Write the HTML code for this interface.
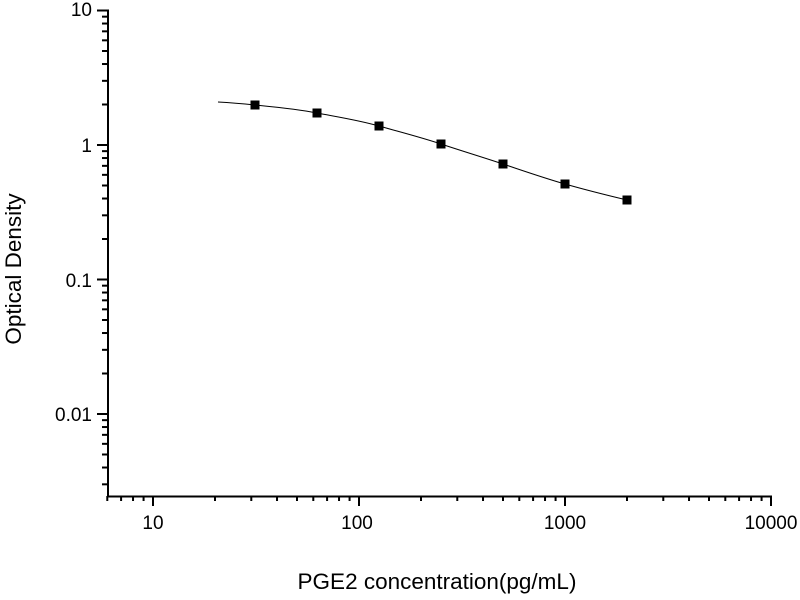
<!DOCTYPE html>
<html><head><meta charset="utf-8"><style>
html,body{margin:0;padding:0;background:#fff;}
svg{display:block;font-family:"Liberation Sans",Arial,sans-serif;}
</style></head><body>
<svg id="s" width="800" height="600" viewBox="0 0 800 600" xmlns="http://www.w3.org/2000/svg">
<line x1="108" y1="9.5" x2="108" y2="496.5" stroke="#000" stroke-width="2"/>
<line x1="107" y1="496.5" x2="772" y2="496.5" stroke="#000" stroke-width="2"/>
<g id="t" stroke="#000" stroke-width="2"></g>
<g font-size="19" fill="#000">
<text x="92" y="16" text-anchor="end">10</text>
<text x="92" y="152" text-anchor="end">1</text>
<text x="92" y="287" text-anchor="end">0.1</text>
<text x="92" y="421" text-anchor="end">0.01</text>
<text x="153" y="529" text-anchor="middle">10</text>
<text x="357" y="529" text-anchor="middle">100</text>
<text x="565" y="529" text-anchor="middle">1000</text>
<text x="771" y="529" text-anchor="middle">10000</text>
</g>
<text x="437" y="589" font-size="22.5" text-anchor="middle">PGE2 concentration(pg/mL)</text>
<text transform="translate(21,269) rotate(-90)" font-size="22.5" text-anchor="middle">Optical Density</text>
<path d="M218,102 C235,103 245,104 255,105 C275,107 297,109 317,113 C338,117 358,120 379,126 C400,132 420,137 441,144 C462,151 482,157 503,164 C524,171 544,178 565,184 C586,190 606,195 627,200" fill="none" stroke="#000" stroke-width="1"/>
<g fill="#000">
<rect x="250.5" y="100.5" width="9" height="9"/>
<rect x="312.5" y="108.5" width="9" height="9"/>
<rect x="374.5" y="121.5" width="9" height="9"/>
<rect x="436.5" y="139.5" width="9" height="9"/>
<rect x="498.5" y="159.5" width="9" height="9"/>
<rect x="560.5" y="179.5" width="9" height="9"/>
<rect x="622.5" y="195.5" width="9" height="9"/>
</g>
</svg>
<script>
var g=document.getElementById('t'),h='';
function yp(v){return 145-134.5*Math.log10(v);}
function xp(v){return 153+206*(Math.log10(v)-1);}
for(var e=-3;e<=1;e++)for(var m=1;m<=9;m++){var v=m*Math.pow(10,e);var y=yp(v);if(y<9||y>496)continue;
var L=m==1?11:6;h+='<line x1="'+(108-L)+'" y1="'+y+'" x2="108" y2="'+y+'"/>';}
for(var e=0;e<=4;e++)for(var m=1;m<=9;m++){var v=m*Math.pow(10,e);var x=xp(v);if(x<107||x>772)continue;
var L=m==1?10:5;h+='<line x1="'+x+'" y1="496" x2="'+x+'" y2="'+(496+L)+'"/>';}
g.innerHTML=h;
</script>
</body></html>
